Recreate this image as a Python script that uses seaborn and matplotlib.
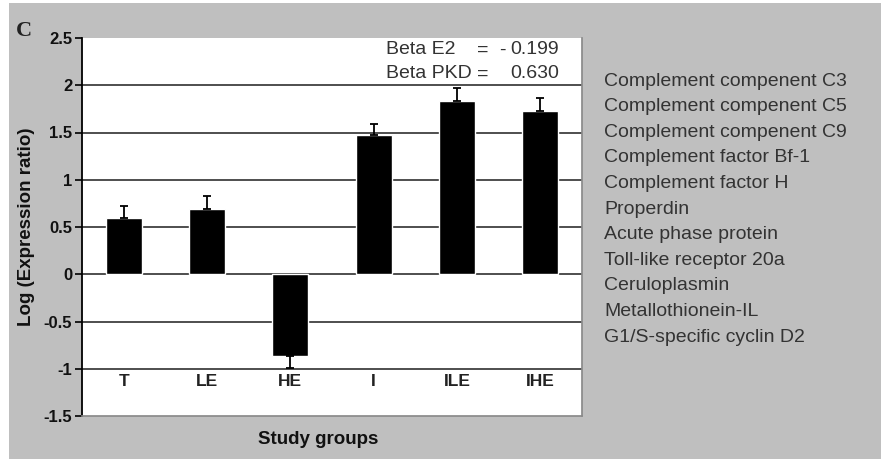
import matplotlib
matplotlib.use("Agg")
import matplotlib.pyplot as plt
from matplotlib.patches import Rectangle
import numpy as np
import pandas as pd
import seaborn as sns

# Mean log expression ratio per study group, with standard error
groups = ["T", "LE", "HE", "I", "ILE", "IHE"]
log_ratio = [0.59, 0.69, -0.86, 1.47, 1.83, 1.73]
std_err = [0.13, 0.14, 0.13, 0.12, 0.14, 0.14]

y_ticks = [-1.5, -1.0, -0.5, 0.0, 0.5, 1.0, 1.5, 2.0, 2.5]
y_tick_labels = ["-1.5", "-1", "-0.5", "0", "0.5", "1", "1.5", "2", "2.5"]

genes = [
    "Complement compenent C3",
    "Complement compenent C5",
    "Complement compenent C9",
    "Complement factor Bf-1",
    "Complement factor H",
    "Properdin",
    "Acute phase protein",
    "Toll-like receptor 20a",
    "Ceruloplasmin",
    "Metallothionein-IL",
    "G1/S-specific cyclin D2",
]
beta_names = ["Beta E2", "Beta PKD"]
beta_signs = ["-", ""]
beta_values = ["0.199", "0.630"]

sns.set_theme(style="white")
plt.rcParams["font.family"] = ["Liberation Sans", "DejaVu Sans"]

W, H = 883, 459
fig = plt.figure(figsize=(W / 100, H / 100), dpi=100, facecolor="white")
# grey panel behind the chart
fig.patches.append(Rectangle((9 / W, 0), (W - 11) / W, (H - 3) / H,
                             transform=fig.transFigure, facecolor="#bfbfbf",
                             edgecolor="none", zorder=-10))

ax = fig.add_axes([82 / W, (H - 416) / H, 500 / W, 378 / H])
ax.set_zorder(2)
ax.set_facecolor("white")

df = pd.DataFrame({"group": groups, "value": log_ratio})
sns.barplot(data=df, x="group", y="value", color="black", width=0.43,
            saturation=1, ax=ax, zorder=3, errorbar=None)

# one-sided error bars pointing away from zero
vals = np.array(log_ratio)
err = np.array(std_err)
lower = np.where(vals < 0, err, 0)
upper = np.where(vals >= 0, err, 0)
ax.errorbar(np.arange(len(groups)), vals, yerr=[lower, upper], fmt="none",
            ecolor="black", elinewidth=1.3, capsize=3, capthick=1.3, zorder=4)

ax.set_ylim(-1.5, 2.5)
ax.set_xlim(-0.5, len(groups) - 0.5)
ax.set_yticks(y_ticks)
ax.set_yticklabels(y_tick_labels, fontsize=12, fontweight="bold", color="#111111")
for y in y_ticks[1:-1]:
    ax.axhline(y, color="#303030", lw=1.2, zorder=1)

ax.set_xticks([])
ax.set_xlabel("")
for i, g in enumerate(groups):
    ax.text(i, -1.135, g, ha="center", va="center", fontsize=12.5,
            fontweight="bold", color="#222222")

ax.tick_params(axis="y", which="both", left=True, length=5, width=1.2,
               color="black", pad=2)
ax.spines["left"].set_color("black")
ax.spines["left"].set_linewidth(1.3)
ax.spines["top"].set_visible(False)
ax.spines["right"].set_color("#8a8a8a")
ax.spines["bottom"].set_color("#8a8a8a")

ax.set_ylabel("Log (Expression ratio)", fontsize=13.5, fontweight="bold",
              color="#111111", labelpad=6)
fig.text(318 / W, 1 - 439 / H, "Study groups", ha="center", va="center",
         fontsize=13.5, fontweight="bold", color="#111111")

# regression coefficients, upper right of the plot area
for k in range(len(beta_names)):
    yy = 1 - (50 + 24 * k) / H
    fig.text(386 / W, yy, beta_names[k], ha="left", va="center",
             fontsize=14, color="#333333", zorder=5)
    fig.text(483 / W, yy, "=", ha="center", va="center",
             fontsize=14, color="#333333", zorder=5)
    if beta_signs[k]:
        fig.text(502 / W, yy, beta_signs[k], ha="center", va="center",
                 fontsize=14, color="#333333", zorder=5)
    fig.text(559 / W, yy, beta_values[k], ha="right", va="center",
             fontsize=14, color="#333333", zorder=5)

for k, gname in enumerate(genes):
    fig.text(604 / W, 1 - (81 + 25.6 * k) / H, gname, ha="left", va="center",
             fontsize=14, color="#333333")

fig.text(24 / W, 1 - 31 / H, "C", ha="center", va="center", fontsize=16,
         family="Liberation Serif", fontweight="bold", color="#222222")

fig.savefig("out.png", dpi=100, facecolor=fig.get_facecolor())
